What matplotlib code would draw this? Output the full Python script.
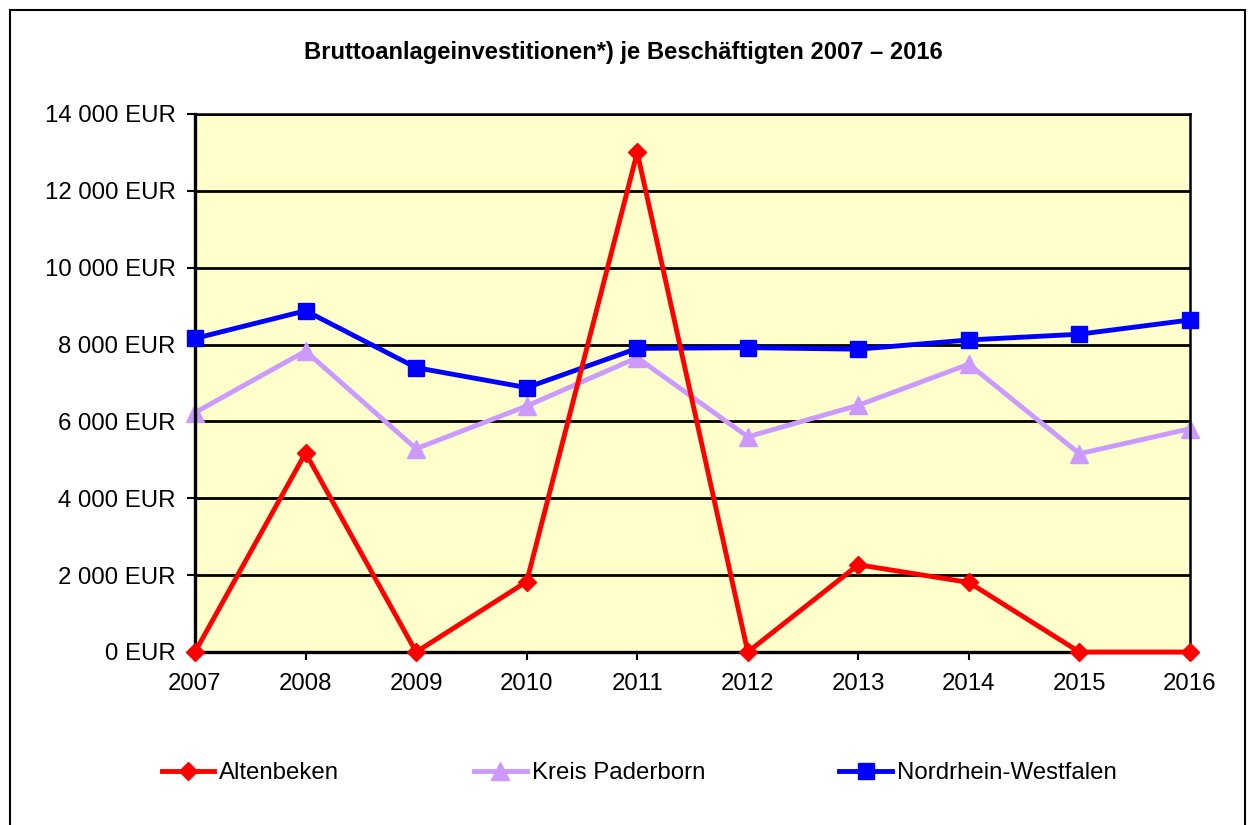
import matplotlib.pyplot as plt
import matplotlib.patches as mpatches
import numpy as np

plt.rcParams['font.family'] = ['Liberation Sans', 'DejaVu Sans']

# Daten
jahre = [2007, 2008, 2009, 2010, 2011, 2012, 2013, 2014, 2015, 2016]
altenbeken = [0, 5180, 0, 1830, 13000, 0, 2270, 1810, 0, 0]
kreis_paderborn = [6230, 7830, 5290, 6400, 7660, 5600, 6420, 7490, 5160, 5810]
nrw = [8160, 8880, 7400, 6880, 7900, 7920, 7880, 8120, 8270, 8640]
y_ticks = [0, 2000, 4000, 6000, 8000, 10000, 12000, 14000]
y_labels = ['0 EUR', '2 000 EUR', '4 000 EUR', '6 000 EUR', '8 000 EUR',
            '10 000 EUR', '12 000 EUR', '14 000 EUR']

W, H = 1252, 825
fig = plt.figure(figsize=(W / 100, H / 100), dpi=100)
ax = fig.add_axes([195 / W, 1 - 652 / H, (1190 - 195) / W, (652 - 114) / H])
ax.set_facecolor('#FFFFCC')

fs = 17.3

# Linien
ax.plot(jahre, nrw, color='#0000FF', lw=3.5, marker='s', ms=12, zorder=3,
        label='Nordrhein-Westfalen', clip_on=False)
ax.plot(jahre, kreis_paderborn, color='#CC99FF', lw=3.5, marker='^', ms=12.5, zorder=2.5,
        label='Kreis Paderborn', clip_on=False)
ax.plot(jahre, altenbeken, color='#FF0000', lw=3.5, marker='D', ms=9.5, zorder=4,
        label='Altenbeken', clip_on=False)

ax.set_xlim(2007, 2016)
ax.set_ylim(0, 14000)
ax.set_yticks(y_ticks)
ax.set_yticklabels(y_labels, fontsize=fs)
ax.set_xticks(jahre)
ax.set_xticklabels([str(j) for j in jahre], fontsize=fs)
ax.tick_params(axis='both', direction='out', length=6, width=1.5, color='black')
ax.tick_params(axis='y', pad=8)
ax.tick_params(axis='x', pad=9)

ax.grid(True, axis='y', color='black', lw=2, zorder=1)
ax.set_axisbelow(True)
for s in ax.spines.values():
    s.set_color('black')
    s.set_linewidth(1.8)
ax.spines['left'].set_linewidth(2.4)
ax.spines['bottom'].set_linewidth(2.4)

fig.text(0.498, 1 - 52 / H, 'Bruttoanlageinvestitionen*) je Beschäftigten 2007 – 2016',
         ha='center', va='center', fontsize=fs * 0.99, fontweight='bold')

# Legende
handles, labels = ax.get_legend_handles_labels()
order = [2, 1, 0]
leg = fig.legend([handles[i] for i in order], [labels[i] for i in order],
                 loc='center left', bbox_to_anchor=(152 / W, 1 - 773 / H), ncol=3,
                 frameon=False, fontsize=fs, handlelength=2.2, handletextpad=0.2,
                 columnspacing=5.6, borderaxespad=0)

# Rahmen
fig.add_artist(mpatches.Rectangle((10 / W, -0.05), (1245 - 10) / W, 1 - 10 / H + 0.05,
                                  transform=fig.transFigure, fill=False,
                                  edgecolor='black', lw=1.5))

fig.savefig('out.png', dpi=100)
